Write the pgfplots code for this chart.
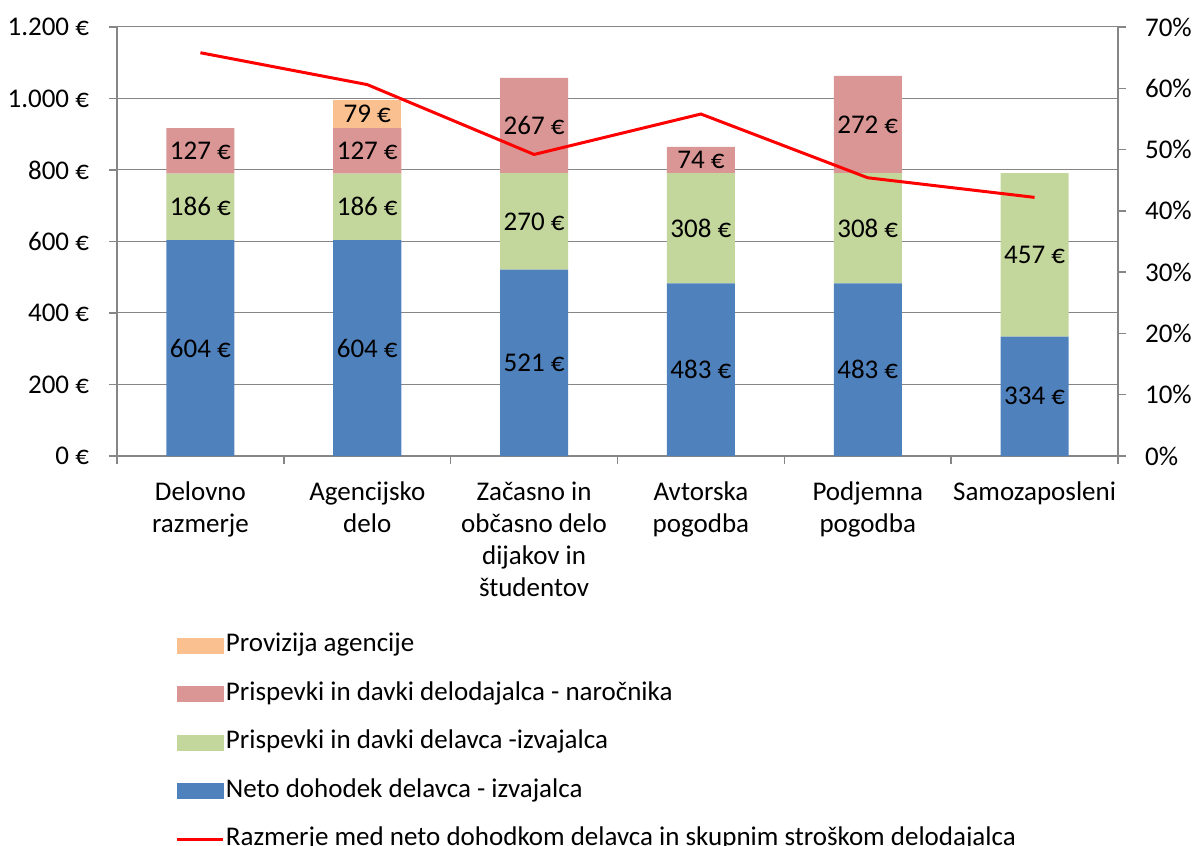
\documentclass[border=0pt]{standalone}
\usepackage{pgfplots}
\pgfplotsset{compat=1.18}
\usepackage{fontspec}
\setmainfont{Carlito}

\definecolor{neto}{HTML}{4F81BD}
\definecolor{delavec}{HTML}{C3D69B}
\definecolor{delodajalec}{HTML}{D99694}
\definecolor{provizija}{HTML}{FAC090}
\definecolor{osi}{HTML}{868686}

\newcommand{\chartfont}{\fontsize{13.5}{16}\selectfont}

\pgfplotsset{
  base/.style={
    scale only axis, width=500.5pt, height=214.5pt,
    xmin=-0.5, xmax=5.5,
    tick align=outside,
    major tick length=4pt, minor tick length=4pt,
    every tick/.style={osi, line width=0.75pt},
    axis line style={osi, line width=0.75pt},
    tick label style={font=\chartfont},
  },
}

\begin{document}
\begin{tikzpicture}
% stacked bars, left axis
\begin{axis}[base,
  ybar stacked, bar width=34pt,
  ymin=0, ymax=1200,
  axis y line*=left, axis x line*=bottom,
  ytick={0,200,...,1200},
  yticklabels={0 €,200 €,400 €,600 €,800 €,1.000 €,1.200 €},
  yticklabel style={xshift=-6.5pt},
  ymajorgrids, grid style={osi, line width=0.5pt},
  xtick={-0.5,0.5,...,5.5}, xticklabels={},
  extra x ticks={0,1,2,3,4,5},
  extra x tick labels={{Delovno\\razmerje},{Agencijsko\\delo},{Začasno in\\občasno delo\\dijakov in\\študentov},{Avtorska\\pogodba},{Podjemna\\pogodba},{Samozaposleni}},
  extra x tick style={tickwidth=0pt},
  xticklabel style={align=center, anchor=north, yshift=-9.5pt},
  point meta=explicit symbolic,
  nodes near coords,
  every node near coord/.append style={font=\chartfont, black, anchor=center},
]
\addplot[fill=neto, draw=none] coordinates {
  (0,604) [604 €] (1,604) [604 €] (2,521) [521 €] (3,483) [483 €] (4,483) [483 €] (5,334) [334 €]
};
\addplot[fill=delavec, draw=none] coordinates {
  (0,186) [186 €] (1,186) [186 €] (2,270) [270 €] (3,308) [308 €] (4,308) [308 €] (5,457) [457 €]
};
\addplot[fill=delodajalec, draw=none] coordinates {
  (0,127) [127 €] (1,127) [127 €] (2,267) [267 €] (3,74) [74 €] (4,272) [272 €] (5,0) []
};
\addplot[fill=provizija, draw=none] coordinates {
  (0,0) [] (1,79) [79 €] (2,0) [] (3,0) [] (4,0) [] (5,0) []
};
\end{axis}

% ratio line, right axis
\begin{axis}[base,
  ymin=0, ymax=70,
  axis y line*=right, axis x line=none,
  ytick={0,10,...,70},
  yticklabels={0\%,10\%,20\%,30\%,40\%,50\%,60\%,70\%},
  yticklabel style={xshift=6pt},
  legend cell align=left,
  legend style={draw=none, fill=none, at={(0.0589,-0.4096)}, anchor=north west,
    inner sep=0pt, outer sep=0pt, row sep=10.75pt, font=\chartfont,
    nodes={inner sep=0pt, text height=10pt, text depth=3.5pt},
    /tikz/every odd column/.append style={column sep=0.5pt}},
]
\addlegendimage{legend image code/.code={\fill[provizija] (0pt,-4pt) rectangle (23pt,3.5pt);}}
\addlegendentry{Provizija agencije}
\addlegendimage{legend image code/.code={\fill[delodajalec] (0pt,-4pt) rectangle (23pt,3.5pt);}}
\addlegendentry{Prispevki in davki delodajalca - naročnika}
\addlegendimage{legend image code/.code={\fill[delavec] (0pt,-4pt) rectangle (23pt,3.5pt);}}
\addlegendentry{Prispevki in davki delavca -izvajalca}
\addlegendimage{legend image code/.code={\fill[neto] (0pt,-4pt) rectangle (23pt,3.5pt);}}
\addlegendentry{Neto dohodek delavca - izvajalca}
\addplot[red, line width=1.5pt, mark=none,
  legend image code/.code={\draw[red, line width=1.5pt] (0pt,-0.25pt) -- (23pt,-0.25pt);}]
  coordinates {(0,65.8) (1,60.6) (2,49.2) (3,55.8) (4,45.4) (5,42.2)};
\addlegendentry{Razmerje med neto dohodkom delavca in skupnim stroškom delodajalca}
\end{axis}

\pgfresetboundingbox
\useasboundingbox (-58.5pt,-194.5pt) rectangle (537.5pt,228pt);
\end{tikzpicture}
\end{document}
